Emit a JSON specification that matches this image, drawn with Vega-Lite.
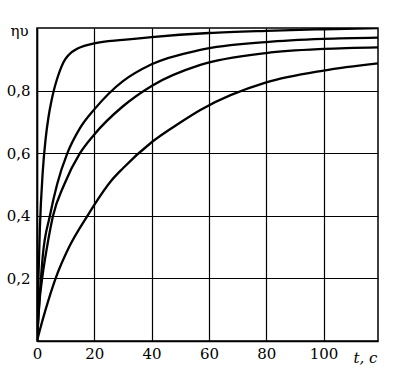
{
  "$schema": "https://vega.github.io/schema/vega-lite/v6.json",
  "autosize": {"type": "none"},
  "padding": {"left": 37, "top": 28, "right": 18, "bottom": 34},
  "width": 341,
  "height": 313,
  "background": "white",
  "config": {
    "font": "DejaVu Serif",
    "view": {"stroke": "black", "strokeWidth": 1.5},
    "axis": {"labelFont": "DejaVu Serif", "titleFont": "DejaVu Serif", "labelColor": "black", "titleColor": "black", "gridColor": "black", "gridOpacity": 1, "gridWidth": 1.2, "domainColor": "black", "domainWidth": 1.5, "ticks": false}
  },
  "data": {"values": [
    {"s": "a", "t": 0, "eta": 0}, {"s": "a", "t": 0.5, "eta": 0.2}, {"s": "a", "t": 1, "eta": 0.36}, {"s": "a", "t": 2, "eta": 0.54}, {"s": "a", "t": 3, "eta": 0.645}, {"s": "a", "t": 4, "eta": 0.715}, {"s": "a", "t": 5, "eta": 0.765}, {"s": "a", "t": 6, "eta": 0.805}, {"s": "a", "t": 7, "eta": 0.837}, {"s": "a", "t": 8, "eta": 0.864}, {"s": "a", "t": 9, "eta": 0.886}, {"s": "a", "t": 10, "eta": 0.902}, {"s": "a", "t": 12, "eta": 0.922}, {"s": "a", "t": 14, "eta": 0.934}, {"s": "a", "t": 16.5, "eta": 0.943}, {"s": "a", "t": 20, "eta": 0.951}, {"s": "a", "t": 30, "eta": 0.962}, {"s": "a", "t": 40, "eta": 0.971}, {"s": "a", "t": 60, "eta": 0.984}, {"s": "a", "t": 80, "eta": 0.991}, {"s": "a", "t": 100, "eta": 0.996}, {"s": "a", "t": 119, "eta": 1.0},
    {"s": "b", "t": 0, "eta": 0}, {"s": "b", "t": 1, "eta": 0.15}, {"s": "b", "t": 2, "eta": 0.27}, {"s": "b", "t": 4.5, "eta": 0.4}, {"s": "b", "t": 7, "eta": 0.5}, {"s": "b", "t": 10.6, "eta": 0.6}, {"s": "b", "t": 15, "eta": 0.68}, {"s": "b", "t": 20, "eta": 0.74}, {"s": "b", "t": 25, "eta": 0.79}, {"s": "b", "t": 30, "eta": 0.83}, {"s": "b", "t": 40, "eta": 0.884}, {"s": "b", "t": 57, "eta": 0.93}, {"s": "b", "t": 80, "eta": 0.955}, {"s": "b", "t": 100, "eta": 0.965}, {"s": "b", "t": 119, "eta": 0.969},
    {"s": "c", "t": 0, "eta": 0}, {"s": "c", "t": 0.8, "eta": 0.12}, {"s": "c", "t": 1.8, "eta": 0.2}, {"s": "c", "t": 3.5, "eta": 0.3}, {"s": "c", "t": 5.6, "eta": 0.4}, {"s": "c", "t": 9.5, "eta": 0.5}, {"s": "c", "t": 15, "eta": 0.6}, {"s": "c", "t": 20, "eta": 0.66}, {"s": "c", "t": 30, "eta": 0.75}, {"s": "c", "t": 40, "eta": 0.815}, {"s": "c", "t": 57, "eta": 0.882}, {"s": "c", "t": 80, "eta": 0.92}, {"s": "c", "t": 100, "eta": 0.933}, {"s": "c", "t": 119, "eta": 0.938},
    {"s": "d", "t": 0, "eta": 0}, {"s": "d", "t": 1, "eta": 0.035}, {"s": "d", "t": 3, "eta": 0.1}, {"s": "d", "t": 6.5, "eta": 0.2}, {"s": "d", "t": 11.2, "eta": 0.3}, {"s": "d", "t": 17.6, "eta": 0.4}, {"s": "d", "t": 20, "eta": 0.435}, {"s": "d", "t": 25.9, "eta": 0.512}, {"s": "d", "t": 30, "eta": 0.552}, {"s": "d", "t": 40, "eta": 0.635}, {"s": "d", "t": 50, "eta": 0.698}, {"s": "d", "t": 57, "eta": 0.738}, {"s": "d", "t": 80, "eta": 0.826}, {"s": "d", "t": 100, "eta": 0.864}, {"s": "d", "t": 119, "eta": 0.887}
  ]},
  "mark": {"type": "line", "color": "black", "strokeWidth": 2.3, "interpolate": "monotone", "clip": true},
  "encoding": {
    "x": {"field": "t", "type": "quantitative",
      "scale": {"domain": [0, 119], "nice": false, "zero": true},
      "axis": {"values": [0, 20, 40, 60, 80, 100], "grid": true, "labelFontSize": 15, "labelPadding": 5, "labelFlush": false,
        "title": "t, c", "titleFontSize": 15, "titleFontWeight": "normal", "titleFontStyle": "italic", "titleAnchor": "start", "titleAngle": 0,
        "titleX": 316, "titleY": 21, "titleBaseline": "alphabetic", "titleAlign": "left"}},
    "y": {"field": "eta", "type": "quantitative",
      "scale": {"domain": [0, 1], "nice": false},
      "axis": {"values": [0.2, 0.4, 0.6, 0.8], "grid": true, "labelFontSize": 15, "labelPadding": 7,
        "labelExpr": "replace(format(datum.value, '.1f'), '.', ',')",
        "title": "ηυ", "titleFontSize": 15, "titleFontWeight": "normal", "titleAngle": 0,
        "titleX": -18, "titleY": 2, "titleAlign": "center", "titleBaseline": "middle"}},
    "detail": {"field": "s", "type": "nominal"}
  }
}
